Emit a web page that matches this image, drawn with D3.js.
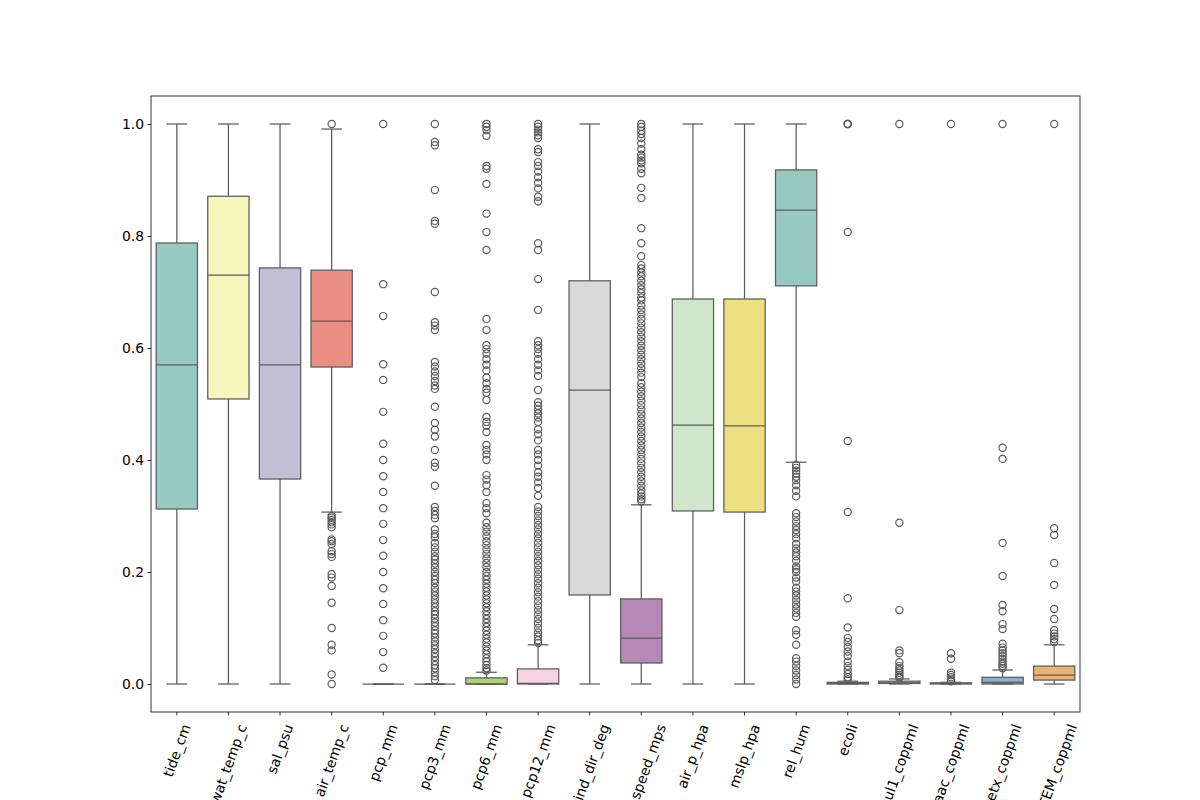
<!DOCTYPE html>
<html>
<head>
<meta charset="utf-8">
<script src="https://cdn.jsdelivr.net/npm/d3@7"></script>
<style>
  body { margin: 0; background: #fff; }
  text { font-family: "DejaVu Sans", sans-serif; }
</style>
</head>
<body>
<div class="chart"></div>
<script>
// categories and box stats (scaled 0-1 values)
let categories = ["tide_cm", "wat_temp_c", "sal_psu", "air_temp_c", "pcp_mm", "pcp3_mm", "pcp6_mm", "pcp12_mm",
    "wind_dir_deg", "wind_speed_mps", "air_p_hpa", "mslp_hpa", "rel_hum", "ecoli",
    "sul1_coppml", "aac_coppml", "tetx_coppml", "blaTEM_coppml"]

let whiskerLow  = [0, 0, 0, 0.307, 0, 0, 0, 0, 0, 0, 0, 0, 0.396, 0, 0, 0, 0, 0]
let q1          = [0.3125, 0.509, 0.366, 0.566, 0, 0, 0, 0, 0.159, 0.0375, 0.309, 0.307, 0.711, 0, 0.001, 0, 0, 0.007]
let median      = [0.570, 0.730, 0.570, 0.648, 0, 0, 0, 0.001, 0.525, 0.082, 0.4625, 0.461, 0.846, 0.001, 0.002, 0.001, 0.003, 0.016]
let q3          = [0.7875, 0.871, 0.743, 0.739, 0, 0, 0.011, 0.027, 0.720, 0.152, 0.6875, 0.6875, 0.918, 0.003, 0.005, 0.002, 0.012, 0.032]
let whiskerHigh = [1.0, 1.0, 1.0, 0.991, 0, 0, 0.021, 0.07, 1.0, 0.32, 1.0, 1.0, 1.0, 0.005, 0.009, 0.003, 0.025, 0.07]

// fliers per category
let outliers = [
    [],
    [],
    [],
    [1.0, 0.30, 0.297, 0.293, 0.289, 0.285, 0.28, 0.258, 0.255, 0.25, 0.237, 0.232, 0.227, 0.196, 0.19, 0.175, 0.145, 0.1, 0.07, 0.06, 0.017, 0.0],
    [1.0, 0.714, 0.657, 0.571, 0.543, 0.486, 0.429, 0.4, 0.371, 0.343, 0.314, 0.286, 0.257, 0.229, 0.2, 0.171, 0.143, 0.114, 0.086, 0.057, 0.029],
    [1.0, 0.968, 0.962, 0.882, 0.827, 0.822, 0.70, 0.646, 0.640, 0.632, 0.575, 0.567, 0.558, 0.550, 0.541, 0.533, 0.527, 0.495,
     0.466, 0.454, 0.442, 0.418, 0.395, 0.388, 0.354, 0.316, 0.309, 0.302, 0.296, 0.276, 0.268, 0.262, 0.252, 0.244, 0.236,
     0.228, 0.222, 0.215, 0.208, 0.2, 0.193, 0.186, 0.18, 0.172, 0.165, 0.158, 0.151, 0.144, 0.137, 0.13, 0.124, 0.117, 0.11,
     0.103, 0.096, 0.09, 0.083, 0.076, 0.069, 0.062, 0.055, 0.048, 0.041, 0.034, 0.028, 0.021, 0.014, 0.007],
    [1.0, 0.995, 0.989, 0.979, 0.925, 0.92, 0.893, 0.84, 0.807, 0.775, 0.652, 0.632, 0.605, 0.598, 0.59, 0.58, 0.57, 0.56,
     0.547, 0.537, 0.527, 0.52, 0.507, 0.477, 0.468, 0.461, 0.45, 0.427, 0.418, 0.41, 0.4, 0.373, 0.365, 0.355, 0.343, 0.323,
     0.314, 0.305, 0.288, 0.28, 0.272, 0.264, 0.255, 0.248, 0.24, 0.232, 0.224, 0.216, 0.209, 0.2, 0.193, 0.186, 0.179, 0.172,
     0.165, 0.158, 0.151, 0.144, 0.137, 0.13, 0.123, 0.116, 0.109, 0.102, 0.095, 0.088, 0.081, 0.074, 0.067, 0.06, 0.053,
     0.046, 0.04, 0.034, 0.028, 0.024],
    [1.0, 0.995, 0.99, 0.985, 0.98, 0.975, 0.955, 0.95, 0.932, 0.925, 0.915, 0.905, 0.895, 0.885, 0.87, 0.862, 0.787, 0.775,
     0.723, 0.668, 0.612, 0.605, 0.598, 0.59, 0.58, 0.57, 0.56, 0.55, 0.525, 0.503, 0.497, 0.49, 0.483, 0.476, 0.468, 0.455,
     0.446, 0.435, 0.418, 0.41, 0.4, 0.39, 0.378, 0.37, 0.36, 0.35, 0.336, 0.316, 0.308, 0.3, 0.292, 0.284, 0.276, 0.268,
     0.26, 0.252, 0.244, 0.236, 0.228, 0.22, 0.212, 0.204, 0.196, 0.188, 0.18, 0.172, 0.164, 0.156, 0.148, 0.14, 0.132,
     0.124, 0.116, 0.108, 0.1, 0.092, 0.085, 0.078, 0.073],
    [],
    [1.0, 0.995, 0.988, 0.982, 0.975, 0.965, 0.955, 0.945, 0.94, 0.935, 0.93, 0.92, 0.912, 0.886, 0.868, 0.814, 0.787, 0.764,
     0.748, 0.742, 0.735, 0.728, 0.72, 0.712, 0.705, 0.698, 0.69, 0.685, 0.676, 0.668, 0.66, 0.652, 0.644, 0.636, 0.628, 0.62,
     0.612, 0.604, 0.596, 0.588, 0.58, 0.572, 0.564, 0.556, 0.548, 0.537, 0.53, 0.522, 0.514, 0.506, 0.498, 0.49, 0.482,
     0.474, 0.466, 0.458, 0.45, 0.442, 0.434, 0.426, 0.418, 0.41, 0.402, 0.394, 0.386, 0.378, 0.37, 0.362, 0.354, 0.346,
     0.34, 0.335, 0.33, 0.326],
    [],
    [],
    [0.391, 0.386, 0.381, 0.376, 0.37, 0.364, 0.355, 0.345, 0.335, 0.305, 0.298, 0.29, 0.282, 0.275, 0.268, 0.26, 0.25,
     0.242, 0.235, 0.228, 0.22, 0.21, 0.205, 0.2, 0.19, 0.183, 0.172, 0.165, 0.158, 0.15, 0.142, 0.135, 0.127, 0.12, 0.096,
     0.088, 0.07, 0.046, 0.04, 0.032, 0.024, 0.016, 0.008, 0.0],
    [1.0, 1.0, 1.0, 0.807, 0.434, 0.307, 0.153, 0.101, 0.082, 0.075, 0.066, 0.058, 0.05, 0.04, 0.032, 0.025, 0.018, 0.012, 0.008],
    [1.0, 0.288, 0.132, 0.06, 0.055, 0.039, 0.032, 0.028, 0.024, 0.02, 0.016, 0.013, 0.011],
    [1.0, 0.055, 0.045, 0.02, 0.016, 0.012, 0.008, 0.005],
    [1.0, 0.422, 0.402, 0.252, 0.193, 0.141, 0.13, 0.107, 0.098, 0.072, 0.065, 0.06, 0.055, 0.05, 0.045, 0.04, 0.036, 0.032, 0.028],
    [1.0, 0.278, 0.266, 0.216, 0.177, 0.134, 0.116, 0.096, 0.09, 0.085, 0.08, 0.075]
]

let yTicks = [0, 0.2, 0.4, 0.6, 0.8, 1.0]

// Set3 palette, desaturated like seaborn does
let palette = ["#8dd3c7", "#ffffb3", "#bebada", "#fb8072", "#80b1d3", "#fdb462", "#b3de69", "#fccde5",
    "#d9d9d9", "#bc80bd", "#ccebc5", "#ffed6f"]
function boxColor(i) {
    let c = d3.hsl(palette[i % palette.length])
    c.s = c.s * 0.75
    return c.formatHex()
}
let lineColor = "#5c5c5c"

let svgWidth = 1200
let svgHeight = 800
let margin = { left: 151, right: 120, top: 96, bottom: 88 }
let width = svgWidth - margin.left - margin.right
let height = svgHeight - margin.top - margin.bottom
let fontSize = 13.9

let svg = d3.select('.chart')
    .append('svg')
    .attr('width', svgWidth)
    .attr('height', svgHeight)
    .append('g')
    .attr('transform', `translate(${margin.left},${margin.top})`)

let xScale = d3.scaleBand()
    .domain(categories)
    .range([0, width])
    .padding(0)

let yScale = d3.scaleLinear()
    .domain([-0.05, 1.05])
    .range([height, 0])

let boxW = xScale.bandwidth() * 0.8
let capW = boxW * 0.5

// one group per category
let groups = svg.selectAll('.box')
    .data(categories)
    .enter()
    .append('g')
    .attr('class', 'box')
    .attr('transform', d => `translate(${xScale(d) + xScale.bandwidth() / 2},0)`)

// whiskers
groups.append('line')
    .attr('y1', (d, i) => yScale(whiskerLow[i]))
    .attr('y2', (d, i) => yScale(q1[i]))
    .attr('stroke', lineColor).attr('stroke-width', 1.25)
groups.append('line')
    .attr('y1', (d, i) => yScale(q3[i]))
    .attr('y2', (d, i) => yScale(whiskerHigh[i]))
    .attr('stroke', lineColor).attr('stroke-width', 1.25)

// boxes
groups.append('rect')
    .attr('x', -boxW / 2)
    .attr('width', boxW)
    .attr('y', (d, i) => yScale(q3[i]))
    .attr('height', (d, i) => yScale(q1[i]) - yScale(q3[i]))
    .attr('fill', (d, i) => boxColor(i))
    .attr('stroke', lineColor)
    .attr('stroke-width', 1.25)

// medians
groups.append('line')
    .attr('x1', -boxW / 2).attr('x2', boxW / 2)
    .attr('y1', (d, i) => yScale(median[i]))
    .attr('y2', (d, i) => yScale(median[i]))
    .attr('stroke', lineColor).attr('stroke-width', 1.25)

// caps
groups.append('line')
    .attr('x1', -capW / 2).attr('x2', capW / 2)
    .attr('y1', (d, i) => yScale(whiskerLow[i]))
    .attr('y2', (d, i) => yScale(whiskerLow[i]))
    .attr('stroke', lineColor).attr('stroke-width', 1.25)
groups.append('line')
    .attr('x1', -capW / 2).attr('x2', capW / 2)
    .attr('y1', (d, i) => yScale(whiskerHigh[i]))
    .attr('y2', (d, i) => yScale(whiskerHigh[i]))
    .attr('stroke', lineColor).attr('stroke-width', 1.25)

// fliers
groups.each(function(d, i) {
    d3.select(this).selectAll('circle')
        .data(outliers[i])
        .enter()
        .append('circle')
        .attr('cx', 0)
        .attr('cy', v => yScale(v))
        .attr('r', 3.6)
        .attr('fill', 'none')
        .attr('stroke', lineColor)
        .attr('stroke-width', 1.2)
})

// y axis
let yAxis = d3.axisLeft(yScale)
    .tickValues(yTicks)
    .tickFormat(d3.format('.1f'))
    .tickSize(3.5)
    .tickPadding(3.5)
let yG = svg.append('g').call(yAxis)
yG.select('.domain').remove()
yG.selectAll('line').attr('stroke', '#000').attr('stroke-width', 0.8)
yG.selectAll('text').attr('font-size', fontSize).attr('fill', '#000')
    .attr('font-family', '"DejaVu Sans", sans-serif')

// x axis ticks
let xG = svg.append('g').attr('transform', `translate(0,${height})`)
xG.selectAll('line')
    .data(categories)
    .enter()
    .append('line')
    .attr('x1', d => xScale(d) + xScale.bandwidth() / 2)
    .attr('x2', d => xScale(d) + xScale.bandwidth() / 2)
    .attr('y1', 0).attr('y2', 3.5)
    .attr('stroke', '#000').attr('stroke-width', 0.8)

// rotated labels, bbox centered under the tick like matplotlib
let ang = 70 * Math.PI / 180
let textH = fontSize * 1.164
xG.selectAll('text')
    .data(categories)
    .enter()
    .append('text')
    .text(d => d)
    .attr('font-size', fontSize)
    .attr('text-anchor', 'middle')
    .attr('dy', '0.35em')
    .attr('transform', function(d) {
        let L = this.getComputedTextLength()
        let H = L * Math.sin(ang) + textH * Math.cos(ang)
        let cx = xScale(d) + xScale.bandwidth() / 2
        let cy = 10 + H / 2
        return `translate(${cx},${cy}) rotate(-70)`
    })

// frame
svg.append('rect')
    .attr('width', width)
    .attr('height', height)
    .attr('fill', 'none')
    .attr('stroke', '#000')
    .attr('stroke-width', 0.8)
</script>
</body>
</html>
